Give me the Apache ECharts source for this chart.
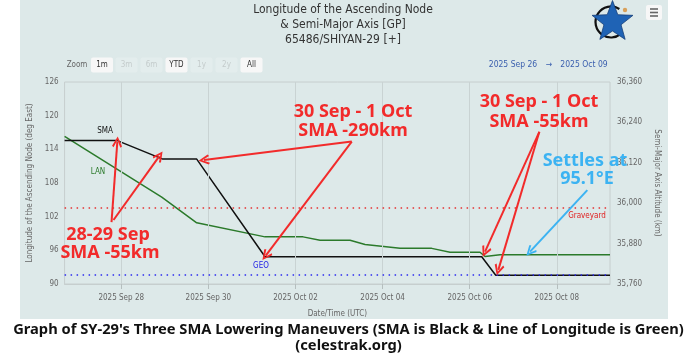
<!DOCTYPE html>
<html><head><meta charset="utf-8">
<script src="https://cdn.jsdelivr.net/npm/echarts@6/dist/echarts.min.js"></script>
<style>html,body{margin:0;padding:0;background:#fff;}#c{width:697px;height:359px;}</style>
</head><body><div id="c"></div>
<script>
// ---------- data ----------
const xMin = '2025-09-26 16:48';
const xMax = '2025-10-09 05:17';
const tickDates = ['2025-09-28','2025-09-30','2025-10-02','2025-10-04','2025-10-06','2025-10-08'];

const smaTimes  = ['2025-09-26 16:48','2025-09-27 21:51','2025-09-28 22:52','2025-09-29 17:35','2025-10-01 07:14','2025-10-06 06:37','2025-10-06 14:20','2025-10-09 05:17'];
const smaValues = [36186, 36186, 36131, 36131, 35841, 35841, 35786, 35786];

const lanTimes  = ['2025-09-26 16:48','2025-09-28 22:19','2025-09-29 17:35','2025-10-01 07:14','2025-10-02 04:10','2025-10-02 13:32','2025-10-03 06:04','2025-10-03 14:20','2025-10-04 09:37','2025-10-05 03:04','2025-10-05 13:09','2025-10-06 05:41','2025-10-06 08:27','2025-10-06 16:42','2025-10-09 05:17'];
const lanValues = [116.3, 105.5, 100.9, 98.4, 98.4, 97.8, 97.8, 97.05, 96.35, 96.35, 95.65, 95.65, 94.9, 95.2, 95.2];

const geoAltitude = 35786;
const graveyardAltitude = 35986;

// annotation arrows: [fromTime, fromKm, toTime, toKm]
const redArrows = [
  ['2025-09-27 18:39', 35944, '2025-09-27 21:51', 36182],
  ['2025-09-27 19:45', 35950, '2025-09-28 21:00', 36140],
  ['2025-10-03 07:00', 36183, '2025-09-29 21:37', 36128],
  ['2025-10-03 07:00', 36183, '2025-10-01 07:37', 35844],
  ['2025-10-07 14:21', 36212, '2025-10-06 08:27', 35856],
  ['2025-10-07 14:21', 36212, '2025-10-06 15:46', 35802]
];
const blueArrows = [
  ['2025-10-08 16:48', 36039, '2025-10-07 09:14', 35856]
];

// ---------- helpers ----------
function ts(s){ const p=s.split(' '); const d=p[0].split('-').map(Number); const t=(p[1]||'00:00').split(':').map(Number); return Date.UTC(d[0],d[1]-1,d[2],t[0],t[1]); }
const MON=['Jan','Feb','Mar','Apr','May','Jun','Jul','Aug','Sep','Oct','Nov','Dec'];
function fmtDate(v){ const d=new Date(v); return d.getUTCFullYear()+' '+MON[d.getUTCMonth()]+' '+String(d.getUTCDate()).padStart(2,'0'); }
const tickVals = tickDates.map(ts);
const chevron = 'path://M5,0 L10,9 L8.4,10.2 L5,3.4 L1.6,10.2 L0,9 Z';
const AX = '"DejaVu Sans Condensed","DejaVu Sans",sans-serif';
const RED = '#f22b2b', BLUE_T = '#3cb3f2';

function arrowData(list){ return list.map(a=>[{coord:[ts(a[0]),a[1]]},{coord:[ts(a[2]),a[3]]}]); }

// ---------- decorations ----------
function txt(text,x,y,font,fill,align){ return {type:'text',z:50,style:{text:text,x:x,y:y,font:font,fill:fill,textAlign:align||'center',textVerticalAlign:'middle'}}; }
function starPoints(cx,cy,R,r){ const pts=[]; for(let i=0;i<10;i++){ const a=-Math.PI/2+i*Math.PI/5; const rr=i%2?r:R; pts.push([cx+rr*Math.cos(a),cy+rr*Math.sin(a)]);} return pts; }

const graphics = [
  {type:'rect', z:-100, shape:{x:20,y:0,width:648,height:319}, style:{fill:'#dde9e9'}},
  txt('Longitude of the Ascending Node',343,10,'12px '+AX,'#333'),
  txt('& Semi-Major Axis [GP]',343,25,'12px '+AX,'#333'),
  txt('65486/SHIYAN-29 [+]',343,40,'12px '+AX,'#333'),
  txt('Zoom',77,65,'8px '+AX,'#666'),
  txt('2025 Sep 26',513,65,'8.5px '+AX,'#3a5fae'),
  txt('\u2192',549,65,'8.5px '+AX,'#3a5fae'),
  txt('2025 Oct 09',584,65,'8.5px '+AX,'#3a5fae'),
  // menu
  {type:'rect', z:50, shape:{x:646,y:5,width:16,height:15,r:2}, style:{fill:'#f7f7f7'}},
  {type:'line', z:51, shape:{x1:650,y1:9,x2:658,y2:9}, style:{stroke:'#666',lineWidth:1.6}},
  {type:'line', z:51, shape:{x1:650,y1:12.5,x2:658,y2:12.5}, style:{stroke:'#666',lineWidth:1.6}},
  {type:'line', z:51, shape:{x1:650,y1:16,x2:658,y2:16}, style:{stroke:'#666',lineWidth:1.6}},
  // logo
  {type:'arc', z:50, shape:{cx:611,cy:22,r:15.5,startAngle:-1.0,endAngle:0.9,clockwise:false}, style:{stroke:'#111',lineWidth:2.2,fill:null}},
  {type:'polygon', z:51, shape:{points:starPoints(612.5,22,21.5,9)}, style:{fill:'#1f63b5',stroke:'#163f78',lineWidth:0.8}},
  {type:'circle', z:52, shape:{cx:625,cy:10,r:2.2}, style:{fill:'#d9a05a'}},
  // line labels
  txt('SMA',105,131,'8px '+AX,'#111'),
  txt('LAN',98,172,'8px '+AX,'#2b7a2b'),
  txt('GEO',261,266,'8px '+AX,'#2323e6'),
  txt('Graveyard',587,216,'8px '+AX,'#e02020'),
  // annotations
  txt('28-29 Sep',108,235,'bold 18px "Noto Sans"',RED),
  txt('SMA -55km',110,253,'bold 18px "Noto Sans"',RED),
  txt('30 Sep - 1 Oct',353,112,'bold 18px "Noto Sans"',RED),
  txt('SMA -290km',353,131,'bold 18px "Noto Sans"',RED),
  txt('30 Sep - 1 Oct',539,102,'bold 18px "Noto Sans"',RED),
  txt('SMA -55km',539,122,'bold 18px "Noto Sans"',RED),
  txt('Settles at',585,161,'bold 18px "Noto Sans"',BLUE_T),
  txt('95.1\u00b0E',587,179,'bold 18px "Noto Sans"',BLUE_T),
  // caption
  txt("Graph of SY-29's Three SMA Lowering Maneuvers (SMA is Black & Line of Longitude is Green)",348.5,330,'bold 14.7px "Noto Sans"','#111'),
  txt('(celestrak.org)',348.5,346,'bold 14.7px "Noto Sans"','#111')
];
// zoom buttons
[['1m',91,true],['3m',115.5,false],['6m',140.5,false],['YTD',165.5,true],['1y',190.5,false],['2y',215.5,false],['All',240.5,true]].forEach(b=>{
  const w = 22;
  graphics.push({type:'rect', z:49, shape:{x:b[1],y:57.5,width:w,height:15,r:2}, style:{fill:b[2]?'#f7f7f7':'#e3eded'}});
  graphics.push(txt(b[0],b[1]+w/2,65,'8px '+AX,b[2]?'#333':'#c4cccc'));
});

const chart = echarts.init(document.getElementById('c'), null, {renderer:'canvas'});
chart.setOption({
  animation:false,
  backgroundColor:'#fff',
  grid:{left:64.6,right:87,top:82,bottom:75,show:true,borderColor:'#c6cece',borderWidth:1,backgroundColor:'transparent'},
  xAxis:{type:'value',min:ts(xMin),max:ts(xMax),
    name:'Date/Time (UTC)',nameLocation:'middle',nameGap:26,nameTextStyle:{color:'#666',fontSize:8,fontFamily:AX},
    axisLine:{show:true,lineStyle:{color:'#c6cece'}},
    axisTick:{show:true,customValues:tickVals,length:5,lineStyle:{color:'#b5bebe'}},
    axisLabel:{customValues:tickVals,formatter:fmtDate,color:'#666',fontSize:8,fontFamily:AX,margin:10},
    splitLine:{show:false}},
  yAxis:[
    {type:'value',min:90,max:126,interval:6,position:'left',
     name:'Longitude of the Ascending Node (deg East)',nameLocation:'middle',nameGap:28,nameRotate:90,
     nameTextStyle:{color:'#666',fontSize:8,fontFamily:AX},
     axisLine:{show:false},axisTick:{show:false},splitLine:{show:false},
     axisLabel:{color:'#666',fontSize:8,fontFamily:AX,margin:6}},
    {type:'value',min:35760,max:36360,interval:120,position:'right',
     name:'Semi-Major Axis Altitude (km)',nameLocation:'middle',nameGap:40,nameRotate:-90,
     nameTextStyle:{color:'#666',fontSize:8,fontFamily:AX},
     axisLine:{show:false},axisTick:{show:false},splitLine:{show:false},
     axisLabel:{color:'#666',fontSize:8,fontFamily:AX,margin:7,formatter:v=>v.toLocaleString('en-US')}}
  ],
  graphic:graphics,
  series:[
    {name:'grid',type:'line',yAxisIndex:1,data:[],z:1,
     markLine:{silent:true,symbol:'none',label:{show:false},lineStyle:{color:'#c9d3d3',width:1,type:'solid'},
       data:tickVals.map(v=>({xAxis:v}))}},
    {name:'refs',type:'line',yAxisIndex:1,data:[],z:2,
     markLine:{silent:true,symbol:'none',label:{show:false},
       data:[{yAxis:graveyardAltitude,lineStyle:{color:'#e53030',width:1.5,type:[1.5,4.5]}},
             {yAxis:geoAltitude,lineStyle:{color:'#2a2af0',width:1.5,type:[1.5,4.5]}}]}},
    {name:'LAN',type:'line',yAxisIndex:0,showSymbol:false,z:3,
     data:lanTimes.map((t,i)=>[ts(t),lanValues[i]]),lineStyle:{color:'#2b7a2b',width:1.5}},
    {name:'SMA',type:'line',yAxisIndex:1,showSymbol:false,z:4,
     data:smaTimes.map((t,i)=>[ts(t),smaValues[i]]),lineStyle:{color:'#111',width:1.5}},
    {name:'redArrows',type:'line',yAxisIndex:1,data:[],z:10,
     markLine:{silent:true,symbol:['none',chevron],symbolSize:[10,11],label:{show:false},
       lineStyle:{color:RED,width:2,type:'solid'},data:arrowData(redArrows)}},
    {name:'blueArrows',type:'line',yAxisIndex:1,data:[],z:10,
     markLine:{silent:true,symbol:['none',chevron],symbolSize:[10,11],label:{show:false},
       lineStyle:{color:BLUE_T,width:2,type:'solid'},data:arrowData(blueArrows)}}
  ]
});
</script></body></html>
